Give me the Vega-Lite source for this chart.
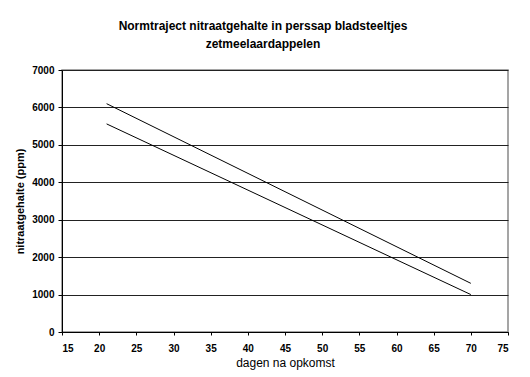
{
  "$schema": "https://vega.github.io/schema/vega-lite/v6.json",
  "width": 446,
  "height": 262,
  "autosize": {"type": "none"},
  "padding": {"left": 62, "top": 70, "right": 22, "bottom": 45},
  "background": "white",
  "title": {
    "text": ["Normtraject nitraatgehalte in perssap bladsteeltjes", "zetmeelaardappelen"],
    "font": "Liberation Sans",
    "fontSize": 12,
    "fontWeight": "bold",
    "lineHeight": 18,
    "color": "black",
    "anchor": "middle",
    "dx": -22,
    "offset": 14
  },
  "data": {
    "values": [
      {"dag": 21, "nitraat": 6100, "lijn": "boven"},
      {"dag": 70, "nitraat": 1300, "lijn": "boven"},
      {"dag": 21, "nitraat": 5560, "lijn": "onder"},
      {"dag": 70, "nitraat": 1000, "lijn": "onder"}
    ]
  },
  "mark": {"type": "line", "color": "black", "strokeWidth": 1},
  "encoding": {
    "x": {
      "field": "dag",
      "type": "quantitative",
      "scale": {"domain": [15, 75], "nice": false},
      "axis": {
        "title": "dagen na opkomst",
        "titleFontWeight": "normal",
        "titleFontSize": 12,
        "values": [15, 20, 25, 30, 35, 40, 45, 50, 55, 60, 65, 70, 75],
        "grid": false,
        "tickSize": 3,
        "labelPadding": 8,
        "titlePadding": 4
      }
    },
    "y": {
      "field": "nitraat",
      "type": "quantitative",
      "scale": {"domain": [0, 7000], "nice": false},
      "axis": {
        "title": "nitraatgehalte (ppm)",
        "values": [0, 1000, 2000, 3000, 4000, 5000, 6000, 7000],
        "format": "d",
        "grid": true,
        "tickSize": 4,
        "labelPadding": 4,
        "titlePadding": 6
      }
    },
    "detail": {"field": "lijn"}
  },
  "config": {
    "view": {"stroke": "#888", "strokeWidth": 1.5},
    "axis": {
      "domainColor": "black",
      "tickColor": "black",
      "gridColor": "#222",
      "gridOpacity": 1,
      "labelFont": "Liberation Sans",
      "labelFontSize": 10,
      "labelFontWeight": "bold",
      "labelColor": "black",
      "titleFont": "Liberation Sans",
      "titleFontSize": 11,
      "titleFontWeight": "bold",
      "titleColor": "black"
    }
  }
}
